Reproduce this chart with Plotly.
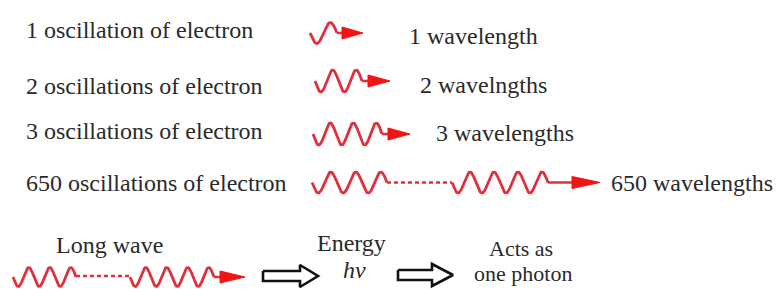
import numpy as np
import plotly.graph_objects as go

# ---- content ----
left_labels = ["1 oscillation of electron", "2 oscillations of electron",
               "3 oscillations of electron", "650 oscillations of electron"]
right_labels = ["1 wavelength", "2 wavelngths", "3 wavelengths", "650 wavelengths"]
oscillations = [1, 2, 3, 650]
bottom_labels = ["Long wave", "Energy", "hv", "Acts as", "one photon"]

# ---- geometry (pixel space) ----
W, H = 779, 289
WAVE_COLOR = "#e0303c"
HEAD_COLOR = "#f01414"
TEXT_COLOR = "#2a2a2a"
FONT = "Liberation Serif"
FS = 24

fig = go.Figure()


def wave(x0, n, lam, yc, amp):
    x = np.linspace(x0, x0 + n * lam, int(n * 40) + 2)
    y = yc + amp * np.sin(2 * np.pi * (x - x0) / lam)
    fig.add_trace(go.Scatter(x=x, y=y, mode="lines",
                             line=dict(color=WAVE_COLOR, width=2.8),
                             hoverinfo="skip", showlegend=False))
    return x0 + n * lam


def seg(x1, x2, yc, dash="solid"):
    fig.add_trace(go.Scatter(x=[x1, x2], y=[yc, yc], mode="lines",
                             line=dict(color=WAVE_COLOR, width=2.5, dash=dash),
                             hoverinfo="skip", showlegend=False))


def head(xb, xt, yc, hh=6):
    fig.add_trace(go.Scatter(x=[xb, xt, xb, xb], y=[yc - hh, yc, yc + hh, yc - hh],
                             mode="lines", fill="toself", fillcolor=HEAD_COLOR,
                             line=dict(color=HEAD_COLOR, width=1),
                             hoverinfo="skip", showlegend=False))


def hollow(x0, xh, xt, yc, sh=5, hh=11):
    xs = [x0, xh, xh, xt, xh, xh, x0, x0]
    ys = [yc - sh, yc - sh, yc - hh, yc, yc + hh, yc + sh, yc + sh, yc - sh]
    fig.add_trace(go.Scatter(x=xs, y=ys, mode="lines", fill="toself",
                             fillcolor="white", line=dict(color="#111111", width=2.6),
                             hoverinfo="skip", showlegend=False))


def text(x, y, s, anchor="left", size=FS, italic=False):
    fig.add_annotation(x=x, y=y, text=f"<i>{s}</i>" if italic else s,
                       showarrow=False, xanchor=anchor, yanchor="middle",
                       font=dict(family=FONT, size=size, color=TEXT_COLOR))


# rows 1-3: simple waves
row_geo = [  # x0, lambda, yc, amp, head base, head tip
    (310, 27.0, 33, 10.5, 342, 363),
    (315, 23.5, 81, 11.0, 368, 390),
    (313, 23.0, 134, 11.0, 388, 410),
]
for (x0, lam, yc, amp, hb, ht), n in zip(row_geo, oscillations[:3]):
    xe = wave(x0, n, lam, yc, amp)
    seg(xe, hb + 2, yc)
    head(hb, ht, yc)

# row 4: long wave with dotted gap
yc4 = 182.5
xe = wave(312, 3, 25, yc4, 10.5)
seg(xe, 452, yc4, dash="4px,3px")
xe = wave(452, 4, 24, yc4, 10.5)
seg(xe, 574, yc4)
head(572, 600, yc4)

# bottom wave
ycb = 277
xe = wave(13, 3, 21, ycb, 9.5)
seg(xe, 130, ycb - 1, dash="4px,3px")
xe = wave(130, 4, 21, ycb, 9.5)
seg(xe, 222, ycb)
head(220, 245, ycb)

# hollow arrows
hollow(263, 300, 318, 276)
hollow(398, 432, 453, 275)

# texts
left_y = [29.5, 85.5, 130.5, 182.5]
for s, y in zip(left_labels, left_y):
    text(24, y, s)
right_xy = [(407, 36), (418, 84.5), (434, 133), (609, 183)]
for s, (x, y) in zip(right_labels, right_xy):
    text(x, y, s)

text(109, 244.5, bottom_labels[0], anchor="center")
text(351, 243, bottom_labels[1], anchor="center")
text(354, 270, bottom_labels[2], anchor="center", italic=True)
text(521, 248, bottom_labels[3], anchor="center", size=22)
text(523, 273, bottom_labels[4], anchor="center", size=22)

fig.update_layout(
    width=W, height=H, margin=dict(l=0, r=0, t=0, b=0),
    font=dict(family=FONT, size=FS, color=TEXT_COLOR),
    paper_bgcolor="white", plot_bgcolor="white",
    xaxis=dict(range=[0, W], visible=False),
    yaxis=dict(range=[H, 0], visible=False),
    showlegend=False,
)
fig.write_html("out.html", config={"displayModeBar": False},
               post_script="document.body.style.margin='0';")
